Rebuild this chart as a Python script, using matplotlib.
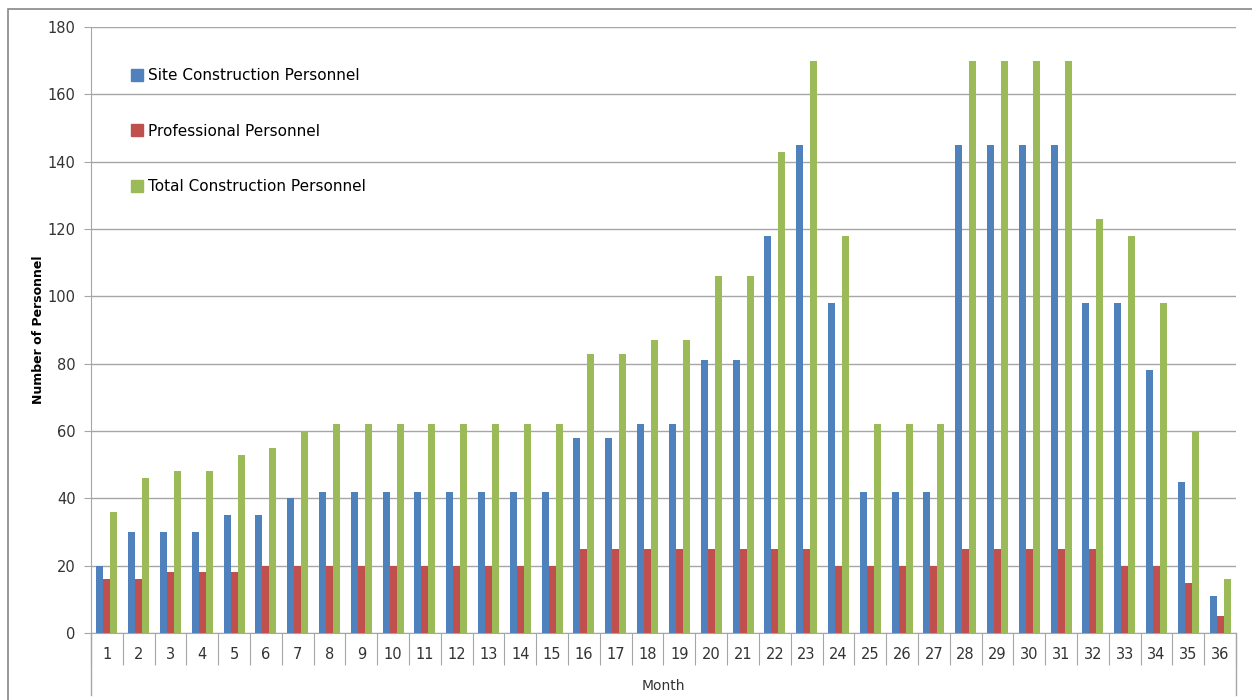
import numpy as np
import matplotlib.pyplot as plt
from matplotlib.lines import Line2D

months = [str(m) for m in range(1, 37)]
site = [20, 30, 30, 30, 35, 35, 40, 42, 42, 42, 42, 42, 42, 42, 42, 58, 58, 62,
        62, 81, 81, 118, 145, 98, 42, 42, 42, 145, 145, 145, 145, 98, 98, 78, 45, 11]
professional = [16, 16, 18, 18, 18, 20, 20, 20, 20, 20, 20, 20, 20, 20, 20, 25, 25, 25,
                25, 25, 25, 25, 25, 20, 20, 20, 20, 25, 25, 25, 25, 25, 20, 20, 15, 5]
total = [36, 46, 48, 48, 53, 55, 60, 62, 62, 62, 62, 62, 62, 62, 62, 83, 83, 87,
         87, 106, 106, 143, 170, 118, 62, 62, 62, 170, 170, 170, 170, 123, 118, 98, 60, 16]

series = [("Site Construction Personnel", site, "#4F81BD"),
          ("Professional Personnel", professional, "#C0504D"),
          ("Total Construction Personnel", total, "#9BBB59")]

fig = plt.figure(figsize=(12.52, 7), dpi=100)
ax = fig.add_axes([0.0727, 0.0957, 0.9145, 0.8657])

x = np.arange(len(months))
w = 0.22
for i, (name, vals, col) in enumerate(series):
    ax.bar(x + (i - 1) * w, vals, w, color=col, label=name, zorder=3)

ax.set_xlim(-0.5, len(months) - 0.5)
ax.set_ylim(0, 180)
ax.set_yticks(range(0, 181, 20))
ax.yaxis.grid(True, color="#A6A6A6", linewidth=1, zorder=0)
for s in ["top", "right"]:
    ax.spines[s].set_visible(False)
ax.spines["left"].set_color("#A6A6A6")
ax.spines["bottom"].set_color("#A6A6A6")
ax.tick_params(axis="y", length=5, color="#A6A6A6", labelsize=10.5, pad=6,
               labelcolor="#333333")

# category axis: ticks between months
ax.set_xticks(np.arange(-0.5, len(months), 1))
ax.set_xticklabels([])
ax.tick_params(axis="x", length=23, color="#A6A6A6", direction="out")
for i, m in enumerate(months):
    ax.text(i, -6.3, m, ha="center", va="center", fontsize=10.5, color="#333333")
ax.plot([0, 0], [0, -0.102], transform=ax.transAxes, color="#A6A6A6", lw=1, clip_on=False)
ax.plot([1, 1], [0, -0.102], transform=ax.transAxes, color="#A6A6A6", lw=1, clip_on=False)
ax.text(0.5, -0.087, "Month", transform=ax.transAxes, ha="center", va="center",
        fontsize=10, color="#333333")

ax.set_ylabel("Number of Personnel", fontsize=9, fontweight="bold", labelpad=2)

handles = [Line2D([], [], marker="s", ls="", color=c, markersize=8) for _, _, c in series]
ax.legend(handles, [n for n, _, _ in series], loc="upper left", bbox_to_anchor=(0.024, 0.955),
          frameon=False, fontsize=11, labelspacing=2.65, handlelength=0.6, handletextpad=0.4)

# outer border
fig.add_artist(plt.Rectangle((0.0064, -0.01), 1.0, 0.997, transform=fig.transFigure,
                             fill=False, edgecolor="#888888", lw=1.2))

fig.savefig("out.png", dpi=100)
